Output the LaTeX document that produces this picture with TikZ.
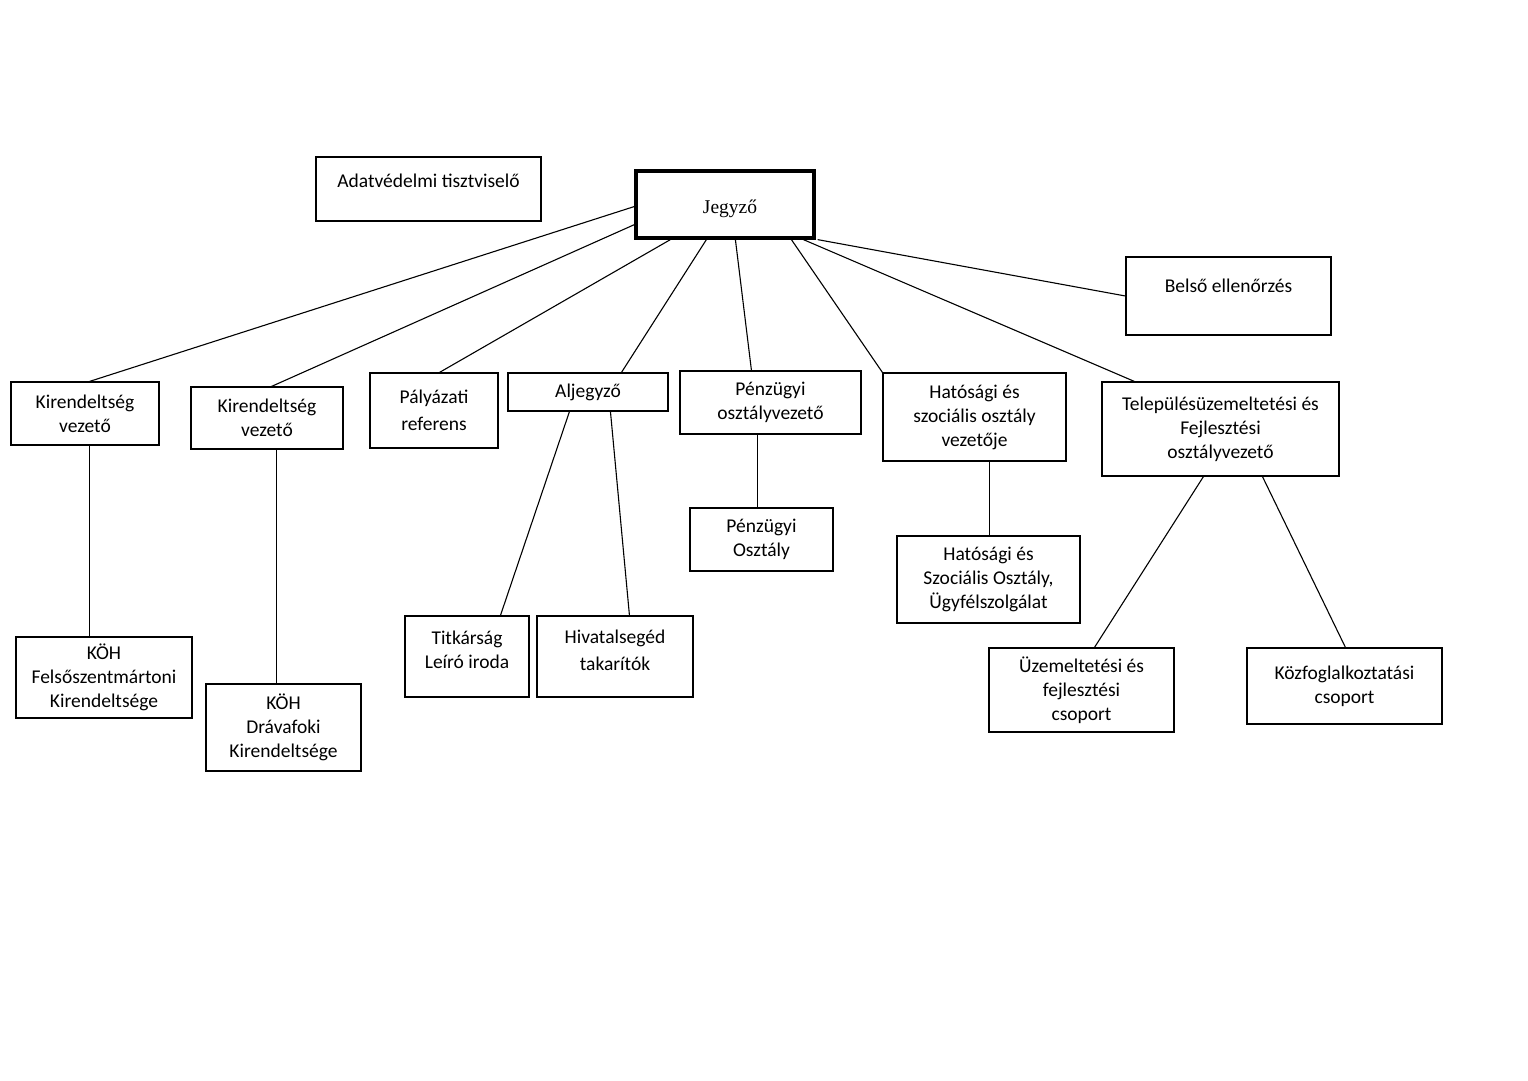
\documentclass[tikz,border=0pt]{standalone}
\usepackage{fontspec}
\setmainfont{Carlito}
\newfontfamily\jserif{Liberation Serif}
\usetikzlibrary{calc}
\newcommand\orgbox[7][]{\node[box,#1,minimum width={(#5-#3)*1pt},minimum height={(#6-#4)*1pt}] (#2) at ({(#3+#5)/2},{(#4+#6)/2}) {#7};}
\begin{document}
\begin{tikzpicture}[x=1pt,y=-1pt,
  box/.style={draw,line width=1.1pt,inner sep=0pt,align=center,font=\fontsize{19.5}{24}\selectfont},
  link/.style={line width=1.1pt}]
\useasboundingbox[fill=white] (0,0) rectangle (1528,1080);
% boxes
\orgbox{adat}{316}{157}{541}{221}{\smash{\raisebox{2pt}{Adatvédelmi tisztviselő}}}
\orgbox[line width=3.2pt,font=\jserif\fontsize{19.5}{24}\selectfont]{jegyzo}{636}{171}{814}{238}{\hspace*{10pt}\smash{\raisebox{-9pt}{Jegyző}}}
\orgbox{bel}{1126}{257}{1331}{335}{\smash{\raisebox{4pt}{Belső ellenőrzés}}}
\orgbox{kir1}{11}{382}{159}{445}{Kirendeltség\\vezető}
\orgbox{kir2}{191}{387}{343}{449}{Kirendeltség\\vezető}
\orgbox{pal}{370}{373}{498}{448}{Pályázati\\[3pt]referens}
\orgbox{alj}{508}{373}{668}{411}{Aljegyző}
\orgbox{penz}{680}{371}{861}{434}{Pénzügyi\\osztályvezető}
\orgbox{hat}{883}{373}{1066}{461}{Hatósági és\\szociális osztály\\vezetője}
\orgbox{tel}{1102}{382}{1339}{476}{Településüzemeltetési és\\Fejlesztési\\osztályvezető}
\orgbox{penzo}{690}{508}{833}{571}{Pénzügyi\\Osztály}
\orgbox{hato}{897}{536}{1080}{623}{Hatósági és\\Szociális Osztály,\\Ügyfélszolgálat}
\orgbox{koh1}{16}{637}{192}{718}{KÖH\\Felsőszentmártoni\\Kirendeltsége}
\orgbox{koh2}{206}{684}{361}{771}{KÖH\\Drávafoki\\Kirendeltsége}
\orgbox{tit}{405}{616}{529}{697}{Titkárság\\Leíró iroda\\[-10pt]\mbox{}}
\orgbox{hiv}{537}{616}{693}{697}{Hivatalsegéd\\[3pt]takarítók\\[-12pt]\mbox{}}
\orgbox{uzem}{989}{648}{1174}{732}{Üzemeltetési és\\fejlesztési\\csoport}
\orgbox{kozf}{1247}{648}{1442}{724}{Közfoglalkoztatási\\csoport}
% connectors from Jegyző
\draw[link] ($(jegyzo.west)+(0,2)$) -- ($(kir1.north west)+(79,0)$);
\draw[link] ($(jegyzo.south west)+(0,-15)$) -- ($(kir2.north west)+(81,0)$);
\draw[link] ($(jegyzo.south west)+(36,0)$) -- ($(pal.north west)+(70,0)$);
\draw[link] ($(jegyzo.south west)+(72,0)$) -- ($(alj.north west)+(114,0)$);
\draw[link] ($(jegyzo.south west)+(101,0)$) -- ($(penz.north west)+(72,0)$);
\draw[link] ($(jegyzo.south west)+(157,0)$) -- (hat.north west);
\draw[link] ($(jegyzo.south west)+(169,0)$) -- ($(tel.north west)+(33,0)$);
\draw[link] ($(jegyzo.south east)+(2,0)$) -- (bel.west);
% lower connectors
\draw[link] ($(kir1.south west)+(79,0)$) -- ($(koh1.north west)+(74,0)$);
\draw[link] ($(kir2.south west)+(86,0)$) -- ($(koh2.north west)+(71,0)$);
\draw[link] ($(alj.south west)+(62,0)$) -- ($(tit.north west)+(96,0)$);
\draw[link] ($(alj.south west)+(103,0)$) -- ($(hiv.north west)+(93,0)$);
\draw[link] ($(penz.south west)+(78,0)$) -- ($(penzo.north west)+(68,0)$);
\draw[link] ($(hat.south west)+(107,0)$) -- ($(hato.north west)+(93,0)$);
\draw[link] ($(tel.south west)+(102,0)$) -- ($(uzem.north west)+(106,0)$);
\draw[link] ($(tel.south west)+(161,0)$) -- ($(kozf.north west)+(99,0)$);
\end{tikzpicture}
\end{document}
